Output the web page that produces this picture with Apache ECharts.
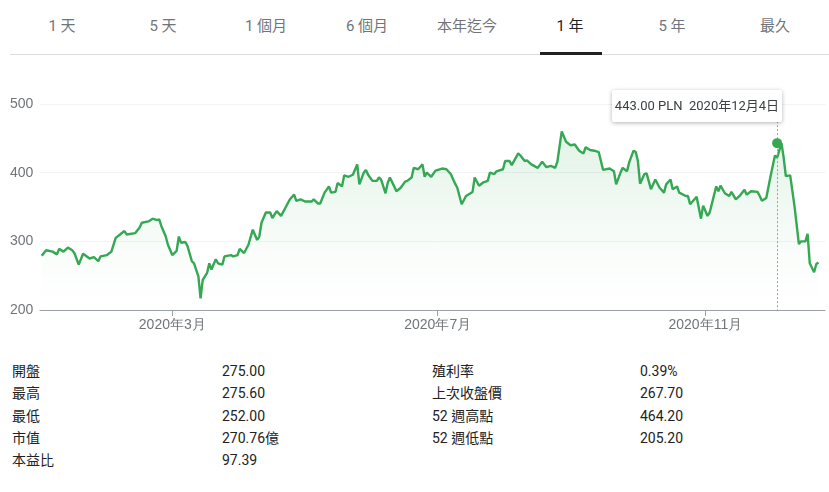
<!DOCTYPE html>
<html><head><meta charset="utf-8">
<script src="https://cdn.jsdelivr.net/npm/echarts@6/dist/echarts.min.js"></script>
<style>
body{margin:0;width:829px;height:492px;background:#fff;font-family:Roboto,"Noto Sans CJK TC",Arial,sans-serif;position:relative;overflow:hidden}
.tab{position:absolute;top:14px;font-size:15px;color:#70757a;transform:translateX(-50%);white-space:nowrap}
.tab.sel{color:#202124}
#chart{position:absolute;left:0;top:60px;width:829px;height:300px}
.cell{position:absolute;font-size:14px;color:#222;white-space:nowrap;line-height:20px;height:20px}
#tip{position:absolute;left:612px;top:90px;width:170px;height:32px;background:#fff;box-shadow:0 1px 4px rgba(0,0,0,0.3);border-radius:2px;font-size:13px;color:#3c4043;line-height:32px;text-align:center;white-space:nowrap;z-index:5}
</style></head><body>
<div id="tabs"></div>
<div style="position:absolute;left:10px;right:0;top:54px;height:1px;background:#dadce0"></div>
<div style="position:absolute;left:540px;width:62px;top:52px;height:3px;background:#202124"></div>
<div id="chart"></div>
<div id="tip">443.00 PLN&nbsp;&nbsp;2020年12月4日</div>
<div id="stats"></div>
<script>
const tabs=["1 天","5 天","1 個月","6 個月","本年迄今","1 年","5 年","最久"];
const tabX=[62,163,266,367,467,570,672,775];
const days=[1,3,6,8,9,11,13,15,16,18,20,23,25,27,28,31,33,35,37,39,40,44,46,47,50,52,54,55,56,58,59,61,63,64,65,67,68,70,71,73,74,75,77,78,79,81,82,84,85,88,89,91,92,94,96,98,100,101,102,104,106,107,109,111,113,115,117,118,120,122,125,126,128,129,131,133,134,136,137,139,140,142,144,146,147,149,150,151,153,155,156,157,159,160,161,163,164,166,168,169,171,172,174,176,177,178,180,182,185,187,
189,191,192,194,196,199,200,202,204,206,207,209,210,213,214,216,217,220,221,223,224,226,229,231,233,235,237,238,240,242,244,246,248,250,251,253,255,257,258,259,262,264,265,267,268,270,271,273,274,275,276,278,279,281,283,285,287,288,290,291,293,294,297,298,299,302,304,305,307,308,311,312,313,315,317,318,320,322,324,325,327,330,331,332,334,336,338,339,341,342,343,345,347,349,350,352,353,354,356,357,358];
const prices=[279,287,285,281,289,285,291,287,283,266,282,275,277,271,278,280,285,305,310,315,310,312,320,327,329,333,331,332,322,307,295,280,286,307,298,299,293,271,268,249,217,244,254,268,259,274,268,266,278,280,278,280,289,283,295,317,302,307,327,342,342,334,344,337,349,361,368,359,361,358,358,361,355,355,371,380,371,372,385,380,396,394,397,412,383,400,404,397,388,388,393,390,370,385,393,380,373,378,387,388,393,407,405,412,394,400,394,403,406,405,
398,384,378,354,366,372,393,381,386,388,400,398,402,405,417,417,411,428,425,417,418,412,407,416,408,410,407,416,460,445,440,441,432,428,437,433,432,430,417,404,406,402,383,400,407,402,415,432,430,417,384,398,399,376,390,378,371,383,390,376,380,371,366,366,354,365,333,352,337,342,380,373,381,370,366,372,361,367,375,368,373,372,366,359,363,395,425,422,443,422,395,396,351,296,300,300,311,268,255,267,269,269];
const monthTicks=["2020-03-01","2020-07-01","2020-11-01"];
const monthLabels=["2020年3月","2020年7月","2020年11月"];
const statRows=[["開盤","275.00","殖利率","0.39%"],["最高","275.60","上次收盤價","267.70"],["最低","252.00","52 週高點","464.20"],["市值","270.76億","52 週低點","205.20"],["本益比","97.39","",""]];

let h='';tabs.forEach((t,i)=>{h+=`<div class="tab${i==5?' sel':''}" style="left:${tabX[i]}px">${t}</div>`});
document.getElementById('tabs').innerHTML=h;
let s='';const cx=[12,222,432,640];
statRows.forEach((r,i)=>r.forEach((c,j)=>{if(c)s+=`<div class="cell" style="left:${cx[j]}px;top:${361+i*22.3}px">${c}</div>`}));
document.getElementById('stats').innerHTML=s;

const base=Date.UTC(2019,11,31),D=864e5;
const data=days.map((d,i)=>[base+d*D,prices[i]]);
const tickTs=monthTicks.map(m=>Date.parse(m+"T00:00:00Z"));
const sel=base+339*D;
const c=echarts.init(document.getElementById('chart'));
c.setOption({
 animation:false,
 grid:{left:40,right:4,top:44,bottom:50},
 xAxis:{type:'value',min:base+0.2*D,max:base+361*D,
  axisLine:{lineStyle:{color:'#9aa0a6'}},
  axisTick:{customValues:tickTs,length:6,lineStyle:{color:'#9aa0a6'}},
  axisLabel:{customValues:tickTs,color:'#70757a',fontSize:14,
   formatter:v=>monthLabels[tickTs.indexOf(v)]||''},
  splitLine:{show:false}},
 yAxis:{type:'value',min:200,max:500,interval:100,
  axisLabel:{color:'#70757a',fontSize:14,align:'left',margin:30},
  splitLine:{lineStyle:{color:'#f1f3f4'}},axisLine:{show:false},axisTick:{show:false}},
 series:[{type:'line',data:data,showSymbol:false,
  lineStyle:{color:'#34a853',width:2.4},
  areaStyle:{origin:'start',color:new echarts.graphic.LinearGradient(0,0,0,1,[{offset:0,color:'rgba(52,168,83,0.2)'},{offset:0.7,color:'rgba(52,168,83,0.03)'},{offset:1,color:'rgba(52,168,83,0)'}])},
  markLine:{symbol:'none',silent:true,label:{show:false},lineStyle:{color:'#9aa0a6',type:[2,2],width:1},data:[[{coord:[sel,475]},{coord:[sel,200]}]]},
  markPoint:{symbol:'circle',symbolSize:10,itemStyle:{color:'#34a853'},label:{show:false},data:[{coord:[sel,443]}]}
 }]
});
</script></body></html>
